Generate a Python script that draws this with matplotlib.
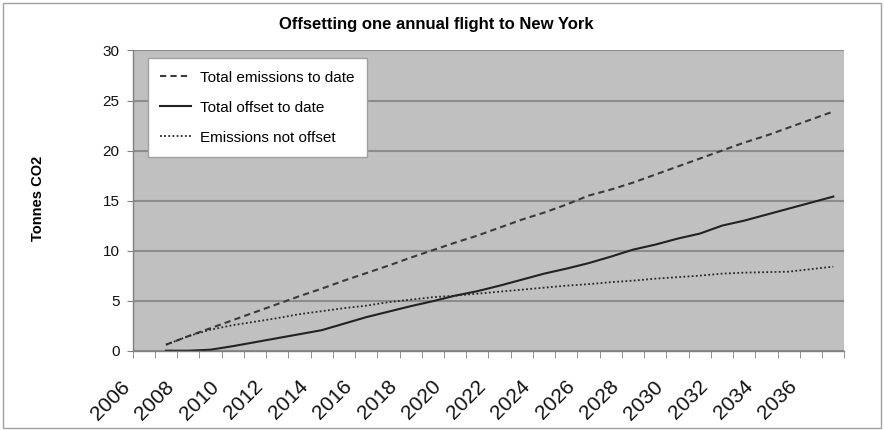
import numpy as np
import matplotlib.pyplot as plt
import matplotlib.transforms as mtransforms
from matplotlib.patches import Rectangle

plt.rcParams['font.family'] = ['Liberation Sans', 'DejaVu Sans']

# data (tonnes CO2), one value per year 2007..2037
years = list(range(2007, 2038))
total_emissions = [0.6, 1.45, 2.25, 3.05, 3.85, 4.65, 5.45, 6.2, 7.0, 7.75,
                   8.5, 9.3, 10.05, 10.8, 11.5, 12.3, 13.1, 13.8, 14.6, 15.5,
                   16.1, 16.8, 17.6, 18.4, 19.2, 20.0, 20.8, 21.5, 22.3, 23.1, 23.9]
total_offset = [0.0, 0.0, 0.1, 0.45, 0.85, 1.25, 1.65, 2.05, 2.7, 3.35,
                3.9, 4.45, 4.95, 5.5, 5.95, 6.5, 7.1, 7.7, 8.2, 8.75,
                9.4, 10.1, 10.6, 11.2, 11.7, 12.5, 13.0, 13.6, 14.2, 14.8, 15.4]
not_offset = [0.6, 1.45, 2.1, 2.55, 2.9, 3.25, 3.65, 3.95, 4.25, 4.5,
              4.85, 5.1, 5.35, 5.5, 5.7, 5.9, 6.1, 6.3, 6.5, 6.65,
              6.85, 7.0, 7.2, 7.35, 7.5, 7.7, 7.8, 7.85, 7.9, 8.15, 8.4]

tick_years = list(range(2006, 2037, 2))
series_labels = ['Total emissions to date', 'Total offset to date', 'Emissions not offset']

fig = plt.figure(figsize=(8.84, 4.3), dpi=100)
ax = fig.add_axes([0.150, 0.1844, 0.8052, 0.6982])
ax.set_facecolor('#c0c0c0')

ax.plot(years, total_emissions, color='#3a3a3a', lw=1.5, dashes=(3, 2), label=series_labels[0])
ax.plot(years, total_offset, color='#222222', lw=1.5, label=series_labels[1])
ax.plot(years, not_offset, color='#2a2a2a', lw=1.3, dashes=(1, 1.3), label=series_labels[2])

ax.set_xlim(2005.5, 2037.5)
ax.set_ylim(0, 30)
ax.set_yticks(range(0, 31, 5))
ax.yaxis.grid(True, color='#8c8c8c', lw=1.5)
ax.set_axisbelow(True)

for side in ['top', 'right']:
    ax.spines[side].set_visible(False)
for side in ['left', 'bottom']:
    ax.spines[side].set_color('#808080')
    ax.spines[side].set_linewidth(1)

# category axis: marks between categories, labels every 2nd year
ax.set_xticks(tick_years)
ax.set_xticklabels([str(y) for y in tick_years])
ax.set_xticks(np.arange(2005.5, 2038, 1), minor=True)
ax.tick_params(axis='x', which='major', length=0, labelsize=15, pad=0, labelcolor='#111111')
ax.tick_params(axis='x', which='minor', length=5, color='#808080', direction='out')
ax.tick_params(axis='y', length=4.5, color='#808080', labelsize=11, pad=5, labelcolor='#111111')

offset = mtransforms.ScaledTranslation(-0.17, -0.33, fig.dpi_scale_trans)
for lbl in ax.get_xticklabels():
    lbl.set_rotation(45)
    lbl.set_ha('right')
    lbl.set_va('center')
    lbl.set_rotation_mode('anchor')
    lbl.set_transform(lbl.get_transform() + offset)

leg = ax.legend(loc='upper left', bbox_to_anchor=(0.0219, 0.974), borderaxespad=0,
                fancybox=False, edgecolor='#a0a0a0', facecolor='white', framealpha=1,
                fontsize=11, handlelength=2.0, handletextpad=0.6, labelspacing=1.05,
                borderpad=0.8)
leg.get_frame().set_linewidth(1)

fig.text(436 / 884, 1 - 25 / 430, 'Offsetting one annual flight to New York',
         ha='center', va='center', fontsize=12, fontweight='bold')
fig.text(38 / 884, 1 - 198 / 430, 'Tonnes CO2', rotation=90,
         ha='center', va='center', fontsize=10.5, fontweight='bold')

# outer chart border
fig.patches.append(Rectangle((3 / 884, 2 / 430), 878 / 884, 425 / 430,
                             transform=fig.transFigure, fill=False,
                             edgecolor='#a0a0a0', lw=1))

fig.savefig('out.png', dpi=100)
